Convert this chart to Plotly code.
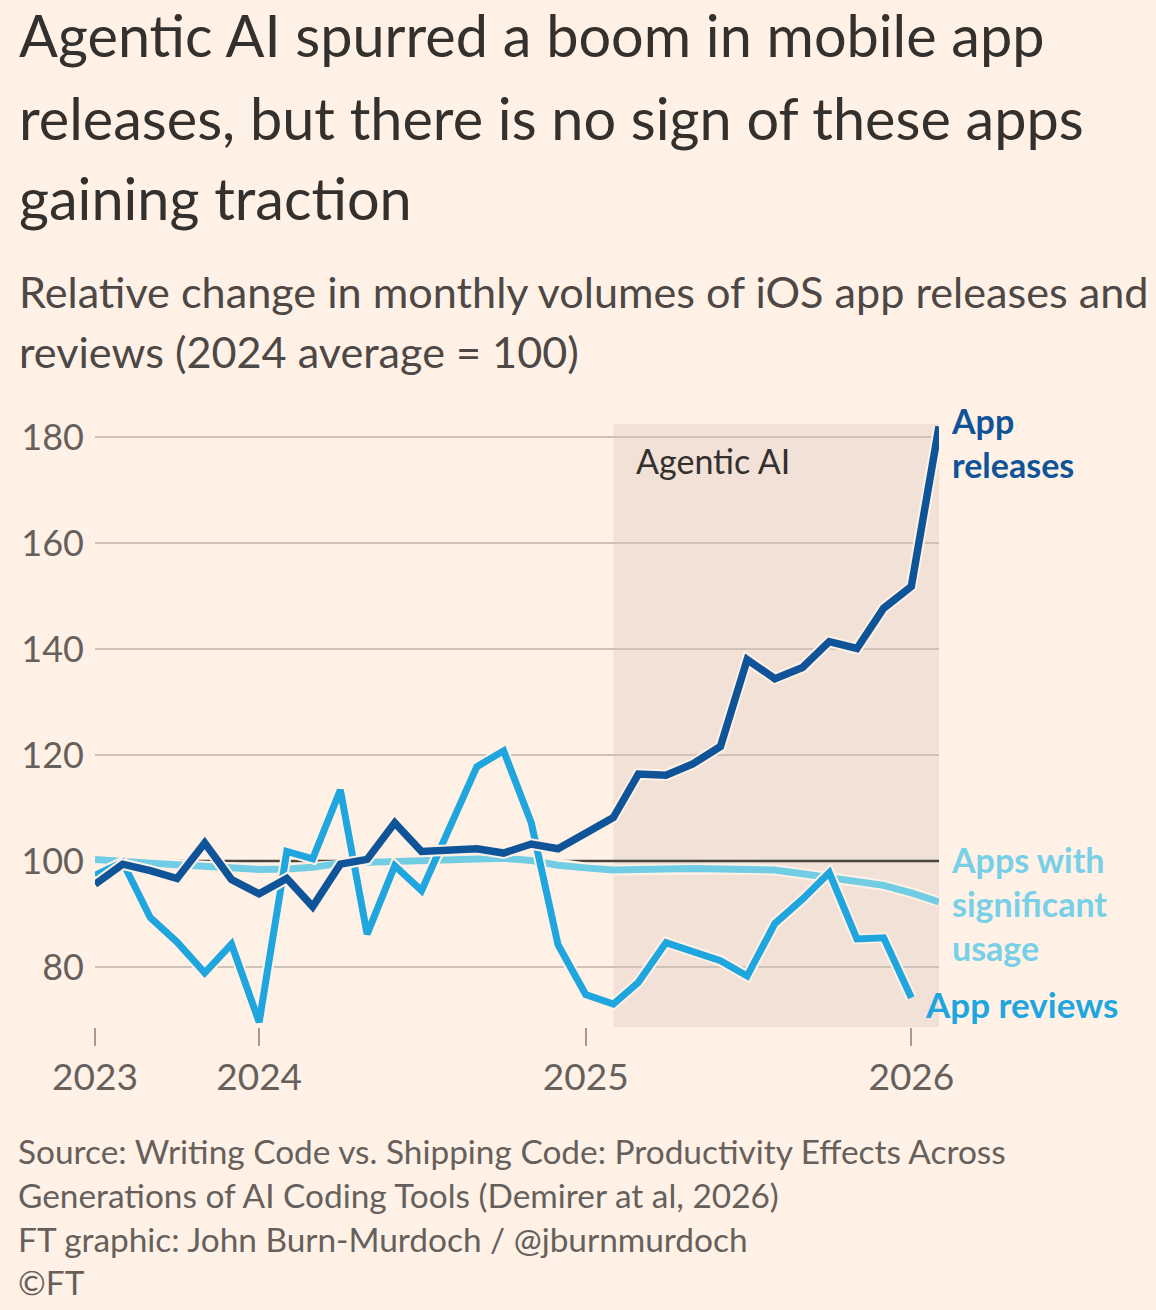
import plotly.graph_objects as go

# monthly index values, Jul 2023 .. Feb 2026 (2024 average = 100)
months = [
    "2023-07-01", "2023-08-01", "2023-09-01", "2023-10-01", "2023-11-01", "2023-12-01",
    "2024-01-01", "2024-02-01", "2024-03-01", "2024-04-01", "2024-05-01", "2024-06-01",
    "2024-07-01", "2024-08-01", "2024-09-01", "2024-10-01", "2024-11-01", "2024-12-01",
    "2025-01-01", "2025-02-01", "2025-03-01", "2025-04-01", "2025-05-01", "2025-06-01",
    "2025-07-01", "2025-08-01", "2025-09-01", "2025-10-01", "2025-11-01", "2025-12-01",
    "2026-01-01", "2026-02-01",
]
app_releases = [
    95.6, 99.4, 98.2, 96.7, 103.4, 96.5,
    93.8, 96.7, 91.4, 99.4, 100.3, 107.2,
    101.8, 101.9, 102.3, 101.5, 103.2, 102.3,
    105.3, 108.2, 116.4, 116.2, 118.3, 121.6,
    138.0, 134.4, 136.5, 141.4, 140.1, 147.7,
    151.8, 182.0,
]
app_reviews = [
    97.3, 99.8, 89.3, 84.7, 78.9, 84.3,
    69.6, 101.8, 100.4, 113.4, 86.2, 99.1,
    94.4, 106.4, 117.8, 120.8, 107.2, 84.2,
    74.8, 73.0, 77.1, 84.6, 83.0, 81.2,
    78.3, 88.2, 92.8, 97.8, 85.3, 85.5,
    74.2,
]
sig_usage = [
    100.3, 99.8, 99.6, 99.3, 99.0, 98.6,
    98.4, 98.5, 98.8, 99.6, 99.8, 99.8,
    100.0, 100.2, 100.4, 100.5, 100.1, 99.2,
    98.7, 98.3, 98.4, 98.6, 98.6, 98.5,
    98.5, 98.3, 97.6, 96.9, 96.1, 95.4,
    94.0, 92.3,
]
y_ticks = [80, 100, 120, 140, 160, 180]
x_ticks = ["2023-07-01", "2024-01-01", "2025-01-01", "2026-01-01"]
x_tick_text = ["2023", "2024", "2025", "2026"]
agentic_start, agentic_end = "2025-02-01", "2026-02-01"

title_lines = [
    "Agentic AI spurred a boom in mobile app",
    "releases, but there is no sign of these apps",
    "gaining traction",
]
subtitle_lines = [
    "Relative change in monthly volumes of iOS app releases and",
    "reviews (2024 average = 100)",
]
footer_lines = [
    "Source: Writing Code vs. Shipping Code: Productivity Effects Across",
    "Generations of AI Coding Tools (Demirer at al, 2026)",
    "FT graphic: John Burn-Murdoch / @jburnmurdoch",
    "©FT",
]

# colours
BG = "#fff1e5"
SHADE = "#f1e1d7"
GRID = "#cec3b9"
C_REL = "#0f5499"
C_REV = "#1fa6df"
C_SIG = "#70cde4"
C_SIG_TXT = "#78d0e8"
FONT = "Lato"

# plot area in page pixels
W, H = 1156, 1310
PL, PR, PT, PB = 95, 939, 424, 1027


def px_x(x):
    return (x - PL) / (PR - PL)


def px_y(y):
    return (PB - y) / (PB - PT)


def label(txt, x, y, size, color, weight=400):
    return dict(x=px_x(x), y=px_y(y), xref="paper", yref="paper", text=txt,
                xanchor="left", yanchor="middle", align="left", showarrow=False,
                font=dict(family=FONT, size=size, color=color, weight=weight))


fig = go.Figure()

# lines with a paper-coloured halo underneath
for name, ys, col, w in [
    ("Apps with significant usage", sig_usage, C_SIG, 7),
    ("App reviews", app_reviews, C_REV, 7),
    ("App releases", app_releases, C_REL, 7.5),
]:
    xs = months[:len(ys)]
    fig.add_trace(go.Scatter(x=xs, y=ys, mode="lines", line=dict(color=BG, width=w + 4),
                             hoverinfo="skip", showlegend=False))
    fig.add_trace(go.Scatter(x=xs, y=ys, mode="lines", name=name,
                             line=dict(color=col, width=w), showlegend=False))

# agentic AI shading and 100 baseline
fig.add_shape(type="rect", xref="x", yref="paper", x0=agentic_start, x1=agentic_end,
              y0=0, y1=1, fillcolor=SHADE, line_width=0, layer="below")
fig.add_shape(type="line", xref="x", yref="y", x0=months[0], x1=months[-1], y0=100, y1=100,
              line=dict(color="#4a4440", width=2.5), layer="between")

ann = [
    label("Agentic AI", 634, 460, 34, "#33302e"),
    label("App<br>releases", 949, 442, 34, C_REL, 700),
    label("Apps with<br>significant<br>usage", 949, 903, 34, C_SIG_TXT, 700),
    label("App reviews", 923, 1004, 35, C_REV, 700),
]

# title, subtitle, footer, one annotation per line for exact spacing
for txt, yc in zip(title_lines, [35, 117, 198]):
    ann.append(label(txt, 17, yc, 57.6, "#33302e"))
for txt, yc in zip(subtitle_lines, [291, 351]):
    ann.append(label(txt, 17, yc, 43.2, "#4d4845"))
for txt, yc in zip(footer_lines, [1151, 1195, 1239, 1282]):
    ann.append(label(txt, 16, yc, 33.4, "#66605c"))

fig.update_layout(
    width=W, height=H,
    margin=dict(l=PL, r=W - PR, t=PT, b=H - PB),
    paper_bgcolor=BG, plot_bgcolor=BG,
    annotations=ann,
    showlegend=False,
    xaxis=dict(type="date", range=[months[0], months[-1]], showgrid=False, zeroline=False,
               showline=False, tickvals=x_ticks, ticktext=x_tick_text,
               ticks="outside", ticklen=18, tickwidth=2, tickcolor="#a39a92",
               tickfont=dict(family=FONT, size=37, color="#66605c")),
    yaxis=dict(range=[68.68, 182.45], tickvals=y_ticks, showgrid=True, gridcolor=GRID,
               gridwidth=2, zeroline=False, showline=False, ticks="",
               ticklabelstandoff=10,
               tickfont=dict(family=FONT, size=36, color="#66605c")),
)

fig.write_html("out.html", config={"displayModeBar": False},
               post_script="document.body.style.margin='0';"
                           "document.body.style.background='#fff1e5';")
